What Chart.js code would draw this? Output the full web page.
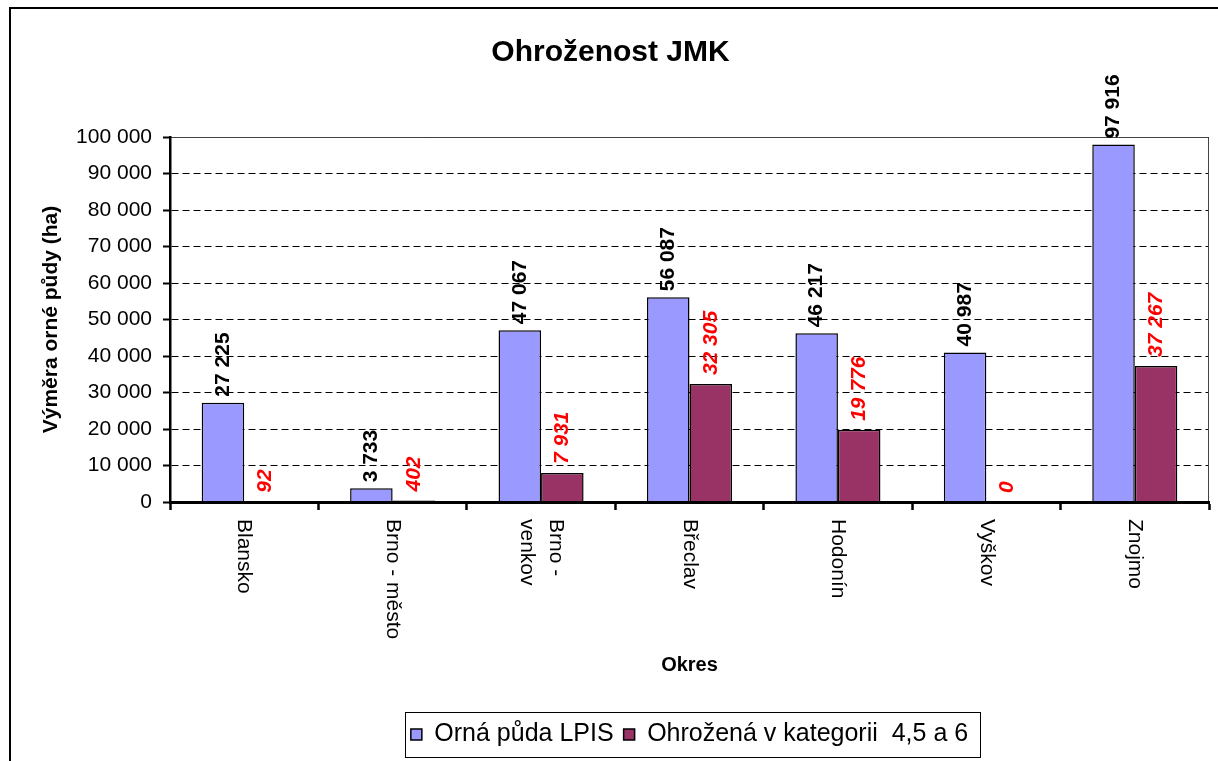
<!DOCTYPE html>
<html lang="cs">
<head>
<meta charset="UTF-8">
<title>Ohroženost JMK</title>
<script src="https://cdn.jsdelivr.net/npm/chart.js@4/dist/chart.umd.min.js"></script>
<style>
    body { margin: 0; background: #fff; overflow: hidden; }
    canvas { display: block; }
</style>
</head>
<body>
<canvas id="grafOhrozenost" width="1218" height="761"></canvas>
<script>
// Data z grafu
const okresy = ['Blansko', 'Brno - město', ['Brno -', 'venkov'], 'Břeclav', 'Hodonín', 'Vyškov', 'Znojmo'];
const ornaPuda = [27225, 3733, 47067, 56087, 46217, 40987, 97916];
const ohrozena = [92, 402, 7931, 32305, 19776, 0, 37267];
const nazvySerii = ['Orná půda LPIS', 'Ohrožená v kategorii  4,5 a 6'];

const PISMO = '"Liberation Sans", Arial, sans-serif';
Chart.defaults.font.family = PISMO;
Chart.defaults.color = '#000';

function formatCislo(hodnota) {
    return String(hodnota).replace(/\B(?=(\d{3})+(?!\d))/g, ' ');
}

// Rámeček kolem celého grafu + okraj plochy
const ramecekPlugin = {
    id: 'ramecek',
    beforeDraw(chart) {
        const ctx = chart.ctx;
        ctx.save();
        ctx.fillStyle = '#fff';
        ctx.fillRect(0, 0, chart.width, chart.height);
        ctx.strokeStyle = '#000';
        ctx.lineWidth = 2;
        ctx.strokeRect(10, 8, 1400, 1000);
        ctx.restore();
    },
    beforeDatasetsDraw(chart) {
        const { ctx, chartArea } = chart;
        ctx.save();
        ctx.strokeStyle = '#444';
        ctx.lineWidth = 1;
        ctx.beginPath();
        ctx.moveTo(chartArea.left, chartArea.top + 0.5);
        ctx.lineTo(chartArea.right - 0.5, chartArea.top + 0.5);
        ctx.lineTo(chartArea.right - 0.5, chartArea.bottom);
        ctx.stroke();
        ctx.restore();
    }
};

// Popisky hodnot nad sloupci
const popiskyPlugin = {
    id: 'popisky',
    afterDatasetsDraw(chart) {
        const ctx = chart.ctx;
        chart.data.datasets.forEach((ds, i) => {
            const meta = chart.getDatasetMeta(i);
            meta.data.forEach((sloupec, j) => {
                ctx.save();
                ctx.translate(sloupec.x, sloupec.y - (i === 0 ? 6 : 9));
                ctx.rotate(-Math.PI / 2);
                ctx.font = (i === 0 ? 'bold ' : 'italic bold ') + '21px ' + PISMO;
                ctx.fillStyle = i === 0 ? '#000' : '#ff0000';
                ctx.textAlign = 'left';
                ctx.textBaseline = 'middle';
                ctx.fillText(formatCislo(ds.data[j]), 0, 0);
                ctx.restore();
            });
        });
    },
    afterDraw(chart) {
        const ctx = chart.ctx;
        const osaX = chart.scales.x;

        // názvy okresů, otočené po směru hodin
        okresy.forEach((nazev, i) => {
            const radky = Array.isArray(nazev) ? nazev : [nazev];
            ctx.save();
            ctx.translate(osaX.getPixelForValue(i), osaX.top + 17);
            ctx.rotate(Math.PI / 2);
            ctx.font = '21px ' + PISMO;
            ctx.fillStyle = '#000';
            ctx.textAlign = 'left';
            ctx.textBaseline = 'middle';
            radky.forEach((radek, k) => {
                ctx.fillText(radek, 0, (k - (radky.length - 1) / 2) * 29);
            });
            ctx.restore();
        });

        // rámeček legendy
        const legenda = chart.legend;
        const boxy = legenda.legendHitBoxes;
        if (boxy && boxy.length) {
            const vlevo = Math.min(...boxy.map(b => b.left)) - 6;
            const vpravo = Math.max(...boxy.map(b => b.left + b.width)) + 12;
            ctx.save();
            ctx.strokeStyle = '#000';
            ctx.lineWidth = 1;
            ctx.strokeRect(Math.round(vlevo) + 0.5, Math.round(legenda.top) + 0.5, Math.round(vpravo - vlevo), Math.round(legenda.height));
            ctx.restore();
        }
    }
};

const graf = new Chart(document.getElementById('grafOhrozenost'), {
    type: 'bar',
    data: {
        labels: okresy,
        datasets: [{
            label: nazvySerii[0],
            data: ornaPuda,
            backgroundColor: '#9999ff',
            borderColor: '#000',
            borderWidth: 1.5,
            categoryPercentage: 0.573,
            barPercentage: 1
        }, {
            label: nazvySerii[1],
            data: ohrozena,
            backgroundColor: '#993366',
            borderColor: '#000',
            borderWidth: 1.5,
            categoryPercentage: 0.573,
            barPercentage: 1
        }]
    },
    options: {
        responsive: false,
        devicePixelRatio: 1,
        animation: false,
        layout: {
            padding: { left: 12, right: 9, top: 10, bottom: 4 }
        },
        plugins: {
            tooltip: { enabled: false },
            title: {
                display: true,
                text: 'Ohroženost JMK',
                color: '#000',
                font: { size: 30, weight: 'bold' },
                padding: { top: 25, bottom: 66 }
            },
            legend: {
                position: 'bottom',
                fullSize: false,
                labels: {
                    color: '#000',
                    font: { size: 25 },
                    boxWidth: 11,
                    boxHeight: 11,
                    padding: 10
                }
            }
        },
        scales: {
            x: {
                offset: true,
                afterFit: (osa) => { osa.height = 210; },
                ticks: { display: false },
                grid: {
                    offset: true,
                    drawOnChartArea: false,
                    color: '#000',
                    tickColor: '#000',
                    tickLength: 8,
                    tickWidth: 2.5
                },
                border: { color: '#000', width: 3, z: 1 },
                title: {
                    display: true,
                    text: 'Okres',
                    color: '#000',
                    font: { size: 20, weight: 'bold' },
                    padding: { top: 0, bottom: 35 }
                }
            },
            y: {
                min: 0,
                max: 100000,
                afterFit: (osa) => { osa.width = 158; },
                ticks: {
                    stepSize: 10000,
                    color: '#000',
                    padding: 11,
                    font: { size: 21 },
                    callback: (hodnota) => formatCislo(hodnota)
                },
                grid: {
                    color: '#000',
                    lineWidth: 1,
                    tickColor: '#000',
                    tickLength: 7,
                    tickWidth: 2
                },
                border: { color: '#000', width: 2.5, dash: [7, 4], z: 1 },
                title: {
                    display: true,
                    text: 'Výměra orné půdy (ha)',
                    color: '#000',
                    font: { size: 21, weight: 'bold' },
                    padding: { top: 27, bottom: 0 }
                }
            }
        }
    },
    plugins: [ramecekPlugin, popiskyPlugin]
});
</script>
</body>
</html>
